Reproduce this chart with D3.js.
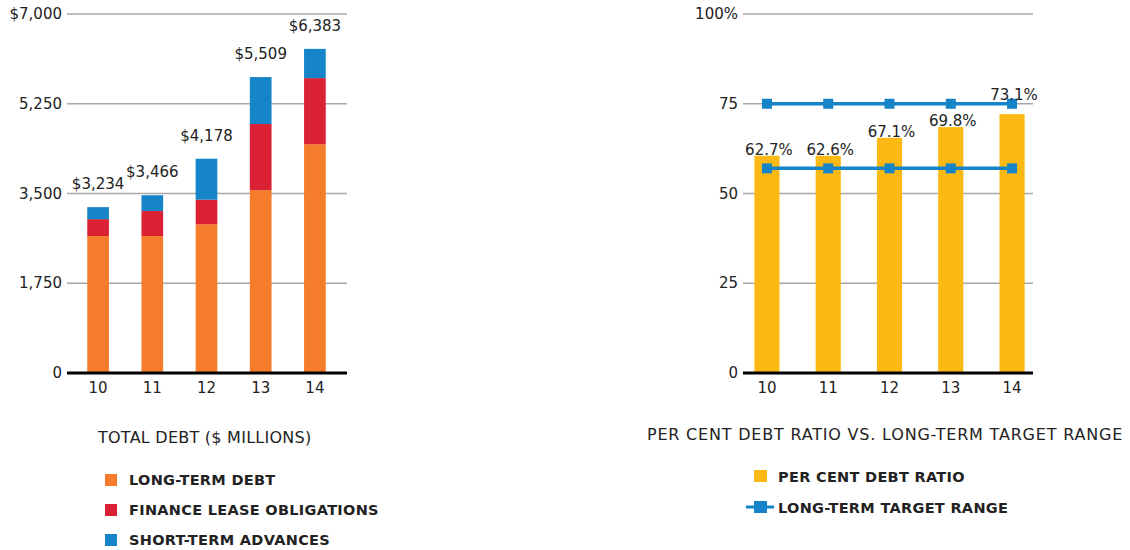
<!DOCTYPE html>
<html>
<head>
<meta charset="utf-8">
<script src="https://cdn.jsdelivr.net/npm/d3@7"></script>
<style>
  body { margin: 0; background: #fff; }
  svg text { font-family: "DejaVu Sans", sans-serif; fill: #222; }
</style>
</head>
<body>
<svg id="chart" width="1130" height="550"></svg>
<script>
// ---- data ----
const years = ["10", "11", "12", "13", "14"];
const longTermDebt = [2670, 2670, 2900, 3565, 4460];
const financeLease = [330, 490, 480, 1290, 1290];
const shortTermAdvances = [234, 306, 798, 915, 570];
const totalLabels = ["$3,234", "$3,466", "$4,178", "$5,509", "$6,383"];
const debtTicks = [0, 1750, 3500, 5250, 7000];
const debtTickLabels = ["0", "1,750", "3,500", "5,250", "$7,000"];

const ratioBars = [60.5, 60.5, 65.5, 68.5, 72.1];
const ratioLabels = ["62.7%", "62.6%", "67.1%", "69.8%", "73.1%"];
const targetHigh = [75, 75, 75, 75, 75];
const targetLow = [57, 57, 57, 57, 57];
const ratioTicks = [0, 25, 50, 75, 100];
const ratioTickLabels = ["0", "25", "50", "75", "100%"];

const seriesNames = ["LONG-TERM DEBT", "FINANCE LEASE OBLIGATIONS", "SHORT-TERM ADVANCES"];
const colours = ["#f47c2a", "#da2234", "#1584c8"];
const yellow = "#fdb913";
const lineBlue = "#1584c8";

const svg = d3.select("#chart");
const yTop = 14, yBase = 373;

// ---------- left chart: total debt ----------
const left = svg.append("g");
const xL = d3.scaleBand().domain(years).range([71, 342]).paddingInner(0.6).paddingOuter(0.3);
const yL = d3.scaleLinear().domain([0, 7000]).range([yBase, yTop]);

left.selectAll(".grid").data(debtTicks.slice(1)).enter()
  .append("line")
  .attr("x1", 67).attr("x2", 347)
  .attr("y1", d => yL(d)).attr("y2", d => yL(d))
  .attr("stroke", "#a8a8a8").attr("stroke-width", 1.5);

left.selectAll(".ytick").data(debtTicks).enter()
  .append("text")
  .attr("x", 62).attr("y", d => yL(d) + 5)
  .attr("text-anchor", "end")
  .style("font-size", "15px")
  .text((d, i) => debtTickLabels[i]);

const stackRows = years.map((y, i) => ({
  year: y, ltd: longTermDebt[i], flo: financeLease[i], sta: shortTermAdvances[i]
}));
const stacked = d3.stack().keys(["ltd", "flo", "sta"])(stackRows);

left.selectAll(".layer").data(stacked).enter()
  .append("g")
  .attr("fill", (d, i) => colours[i])
  .selectAll("rect").data(d => d).enter()
  .append("rect")
  .attr("x", d => xL(d.data.year))
  .attr("width", xL.bandwidth())
  .attr("y", d => yL(d[1]))
  .attr("height", d => yL(d[0]) - yL(d[1]));

left.selectAll(".total").data(stacked[2]).enter()
  .append("text")
  .attr("x", d => xL(d.data.year) + xL.bandwidth() / 2)
  .attr("y", d => yL(d[1]) - 18)
  .attr("text-anchor", "middle")
  .style("font-size", "15px")
  .text((d, i) => totalLabels[i]);

left.append("line")
  .attr("x1", 67).attr("x2", 347)
  .attr("y1", yBase).attr("y2", yBase)
  .attr("stroke", "#000").attr("stroke-width", 3);

left.selectAll(".xtick").data(years).enter()
  .append("text")
  .attr("x", d => xL(d) + xL.bandwidth() / 2)
  .attr("y", 393)
  .attr("text-anchor", "middle")
  .style("font-size", "15px")
  .text(d => d);

left.append("text")
  .attr("x", 98).attr("y", 443)
  .style("font-size", "16px").style("letter-spacing", "0.25px")
  .text("TOTAL DEBT ($ MILLIONS)");

const legL = left.selectAll(".leg").data(seriesNames).enter()
  .append("g")
  .attr("transform", (d, i) => `translate(105, ${474 + i * 30})`);
legL.append("rect").attr("width", 12).attr("height", 12).attr("fill", (d, i) => colours[i]);
legL.append("text")
  .attr("x", 24).attr("y", 11)
  .style("font-size", "14.5px").style("font-weight", "bold").style("letter-spacing", "0.3px")
  .text(d => d);

// ---------- right chart: debt ratio ----------
const right = svg.append("g");
const xR = d3.scaleBand().domain(years).range([736, 1043]).paddingInner(0.59).paddingOuter(0.3);
const yR = d3.scaleLinear().domain([0, 100]).range([yBase, yTop]);
const cx = d => xR(d) + xR.bandwidth() / 2;

right.selectAll(".grid").data(ratioTicks.slice(1)).enter()
  .append("line")
  .attr("x1", 743).attr("x2", 1033)
  .attr("y1", d => yR(d)).attr("y2", d => yR(d))
  .attr("stroke", "#a8a8a8").attr("stroke-width", 1.5);

right.selectAll(".ytick").data(ratioTicks).enter()
  .append("text")
  .attr("x", 738).attr("y", d => yR(d) + 5)
  .attr("text-anchor", "end")
  .style("font-size", "15px")
  .text((d, i) => ratioTickLabels[i]);

right.selectAll(".bar").data(ratioBars).enter()
  .append("rect")
  .attr("x", (d, i) => xR(years[i]))
  .attr("width", xR.bandwidth())
  .attr("y", d => yR(d))
  .attr("height", d => yBase - yR(d))
  .attr("fill", yellow);

right.append("line")
  .attr("x1", 743).attr("x2", 1033)
  .attr("y1", yBase).attr("y2", yBase)
  .attr("stroke", "#000").attr("stroke-width", 3);

right.selectAll(".xtick").data(years).enter()
  .append("text")
  .attr("x", d => cx(d))
  .attr("y", 393)
  .attr("text-anchor", "middle")
  .style("font-size", "15px")
  .text(d => d);

const line = d3.line().x((d, i) => cx(years[i])).y(d => yR(d));
[targetHigh, targetLow].forEach(series => {
  right.append("path")
    .attr("d", line(series))
    .attr("fill", "none")
    .attr("stroke", lineBlue).attr("stroke-width", 3.5);
  right.selectAll(null).data(series).enter()
    .append("rect")
    .attr("x", (d, i) => cx(years[i]) - 5)
    .attr("y", d => yR(d) - 5)
    .attr("width", 10).attr("height", 10)
    .attr("fill", lineBlue);
});

// value labels, lifted above the target line if they would touch it
right.selectAll(".val").data(ratioBars).enter()
  .append("text")
  .attr("x", (d, i) => cx(years[i]) + 2)
  .attr("y", (d, i) => {
    let yy = yR(d) - 1;
    const hi = yR(targetHigh[i]);
    if (yy - 12 < hi + 2 && yy > hi) yy = hi - 4;
    return yy;
  })
  .attr("text-anchor", "middle")
  .style("font-size", "15px")
  .text((d, i) => ratioLabels[i]);

right.append("text")
  .attr("x", 885).attr("y", 440)
  .attr("text-anchor", "middle")
  .style("font-size", "16px").style("letter-spacing", "0.8px")
  .text("PER CENT DEBT RATIO VS. LONG-TERM TARGET RANGE");

const legR = right.append("g");
legR.append("rect").attr("x", 754).attr("y", 470).attr("width", 13).attr("height", 12).attr("fill", yellow);
legR.append("text").attr("x", 778).attr("y", 482)
  .style("font-size", "14.5px").style("font-weight", "bold").style("letter-spacing", "0.3px")
  .text("PER CENT DEBT RATIO");
legR.append("line").attr("x1", 746).attr("x2", 774).attr("y1", 507).attr("y2", 507)
  .attr("stroke", lineBlue).attr("stroke-width", 3);
legR.append("rect").attr("x", 754).attr("y", 501).attr("width", 13).attr("height", 12).attr("fill", lineBlue);
legR.append("text").attr("x", 778).attr("y", 513)
  .style("font-size", "14.5px").style("font-weight", "bold").style("letter-spacing", "0.3px")
  .text("LONG-TERM TARGET RANGE");
</script>
</body>
</html>
